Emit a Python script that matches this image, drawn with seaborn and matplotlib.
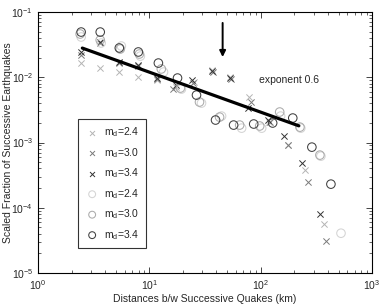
##############################################################
# Scaled fraction of successive earthquakes vs distance
##############################################################

import numpy as np
import pandas as pd
import matplotlib
matplotlib.use("Agg")
import matplotlib.pyplot as plt
import seaborn as sns

########
# Data
########
# crosses (one series per magnitude cutoff)
x_cross_24 = [2.44, 3.62, 5.37, 7.96, 11.8, 17.2, 25.4, 36.2, 52.5, 78.0, 118, 175, 249, 370]
y_cross_24 = [0.0165, 0.0138, 0.0120, 0.0101, 0.00906, 0.00708, 0.00844, 0.0129, 0.0101,
              0.00497, 0.00206, 0.000912, 0.000377, 5.60e-5]
x_cross_30 = [2.44, 3.62, 5.37, 7.96, 11.8, 16.4, 24.9, 36.9, 53.7, 81.3, 120, 175, 265, 385]
y_cross_30 = [0.0219, 0.0335, 0.0165, 0.0149, 0.00938, 0.00659, 0.00815, 0.0120, 0.00938,
              0.00417, 0.00206, 0.000912, 0.000247, 3.07e-5]
x_cross_34 = [2.44, 3.62, 5.37, 7.96, 11.8, 17.5, 24.4, 36.2, 52.5, 76.3, 116, 161, 234, 340]
y_cross_34 = [0.0244, 0.0347, 0.0171, 0.0154, 0.00972, 0.00759, 0.00906, 0.0124, 0.00972,
              0.00337, 0.00221, 0.00125, 0.000483, 7.98e-5]

# circles
x_circ_24 = [2.44, 3.69, 5.60, 8.30, 13.4, 19.4, 29.4, 44.5, 67.4, 102, 151, 229, 347, 526]
y_circ_24 = [0.0414, 0.0335, 0.0301, 0.0211, 0.0120, 0.00659, 0.00402, 0.00254, 0.00166,
             0.00166, 0.00254, 0.00166, 0.000618, 4.07e-5]
x_circ_30 = [2.39, 3.62, 5.48, 8.13, 12.8, 19.0, 28.2, 42.7, 64.7, 97.9, 148, 225, 340]
y_circ_30 = [0.046, 0.0372, 0.0271, 0.0227, 0.0134, 0.00683, 0.00417, 0.00245, 0.00185,
             0.00179, 0.00293, 0.00172, 0.000641]
x_circ_34 = [2.44, 3.62, 5.37, 7.96, 12.05, 17.9, 26.5, 39.3, 57.1, 86.5, 128, 194, 288, 427]
y_circ_34 = [0.0493, 0.0493, 0.0281, 0.0244, 0.0165, 0.00972, 0.00533, 0.00221, 0.00185,
             0.00192, 0.00199, 0.00237, 0.000849, 0.000230]

# power-law fit (exponent 0.6)
x_fit = [2.5, 220]
y_fit = [0.028, 0.0018]

# arrow marking the feature
arrow_x = 45.5
arrow_y = [0.068, 0.0204]

labels = ['m$_d$=2.4', 'm$_d$=3.0', 'm$_d$=3.4', 'm$_d$=2.4', 'm$_d$=3.0', 'm$_d$=3.4']

############
# Plot
############
sns.set_style("ticks")
plt.rcParams['font.family'] = ['Liberation Sans', 'DejaVu Sans']
plt.rcParams['mathtext.fontset'] = 'custom'
plt.rcParams['mathtext.rm'] = 'Liberation Sans'
plt.rcParams['mathtext.it'] = 'Liberation Sans'

fig = plt.figure(figsize=(3.82, 3.04), dpi=100)
ax = fig.add_axes([0.0995, 0.102, 0.8745, 0.8585])

series = [
    (x_cross_24, y_cross_24, 'x', '#b4b4b4', 20),
    (x_cross_30, y_cross_30, 'x', '#7a7a7a', 20),
    (x_cross_34, y_cross_34, 'x', '#333333', 20),
    (x_circ_24, y_circ_24, 'o', '#d4d4d4', 38),
    (x_circ_30, y_circ_30, 'o', '#ababab', 38),
    (x_circ_34, y_circ_34, 'o', '#404040', 38),
]

for (xs, ys, mk, col, sz), lab in zip(series, labels):
    df = pd.DataFrame({'dist': xs, 'frac': ys})
    if mk == 'o':
        sns.scatterplot(x='dist', y='frac', data=df, ax=ax, marker='o', s=sz,
                        facecolor='none', edgecolor=col, linewidth=0.75, label=lab)
    else:
        sns.scatterplot(x='dist', y='frac', data=df, ax=ax, marker='x', s=sz,
                        color=col, linewidth=0.7, label=lab)

# fit line
df_fit = pd.DataFrame({'dist': x_fit, 'frac': y_fit})
sns.lineplot(x='dist', y='frac', data=df_fit, ax=ax, color='black', linewidth=2.3,
             legend=False)

# arrow
ax.annotate('', xy=(arrow_x, arrow_y[1]), xytext=(arrow_x, arrow_y[0]),
            arrowprops=dict(arrowstyle='-|>', color='black', lw=1.4,
                            mutation_scale=9, shrinkA=0, shrinkB=0))

ax.text(96, 0.0091, 'exponent 0.6', fontsize=7.5, va='center', ha='left')

ax.set_xscale('log')
ax.set_yscale('log')
ax.set_xlim(1, 1000)
ax.set_ylim(1e-5, 1e-1)

ax.set_xlabel('Distances b/w Successive Quakes (km)', fontsize=7.5, labelpad=2)
ax.set_ylabel('Scaled Fraction of Successive Earthquakes', fontsize=7.5)
ax.yaxis.set_label_coords(-0.075, 0.5)

ax.tick_params(which='both', direction='in', top=True, right=True, labelsize=7.5)
ax.tick_params(which='major', length=4, width=0.6)
ax.tick_params(which='minor', length=2, width=0.5)
for sp in ax.spines.values():
    sp.set_linewidth(0.8)
    sp.set_color('black')

leg = ax.legend(loc='lower left', bbox_to_anchor=(0.12, 0.096), fontsize=7.5,
                frameon=True, fancybox=False, labelspacing=0.64,
                handletextpad=0.4, handlelength=1.5, borderpad=0.6,
                borderaxespad=0, markerscale=0.8)
leg.get_frame().set_edgecolor('black')
leg.get_frame().set_linewidth(0.8)

plt.savefig('out.png', dpi=100)
